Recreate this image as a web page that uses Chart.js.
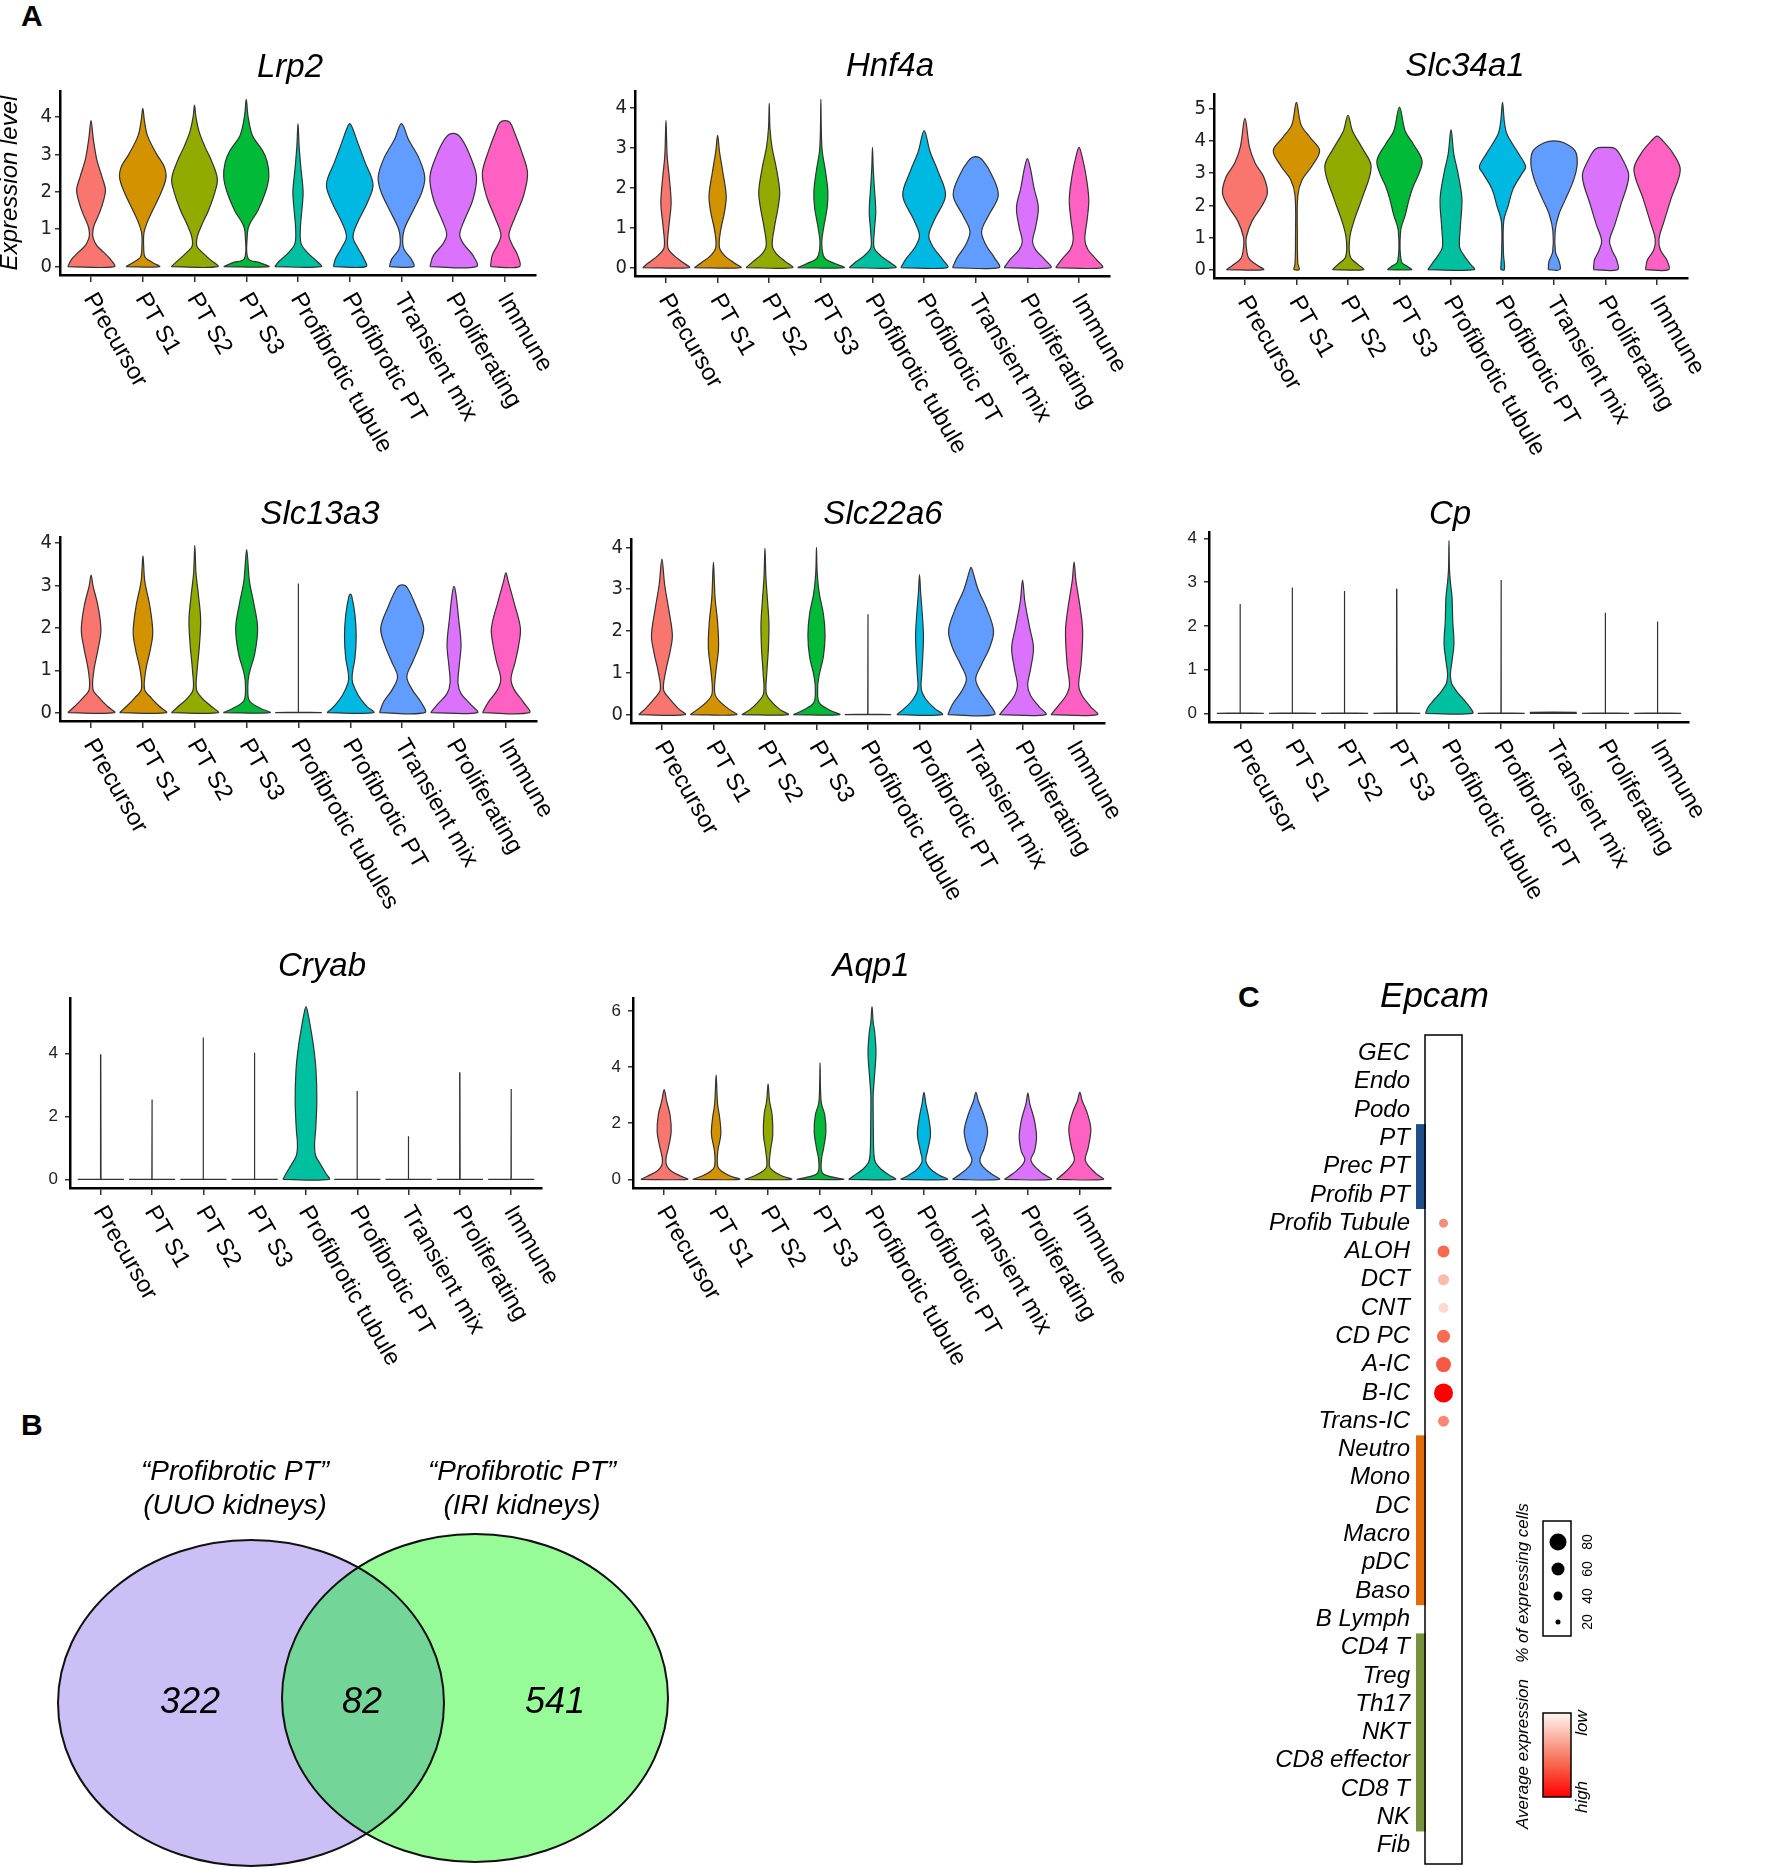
<!DOCTYPE html>
<html>
<head>
<meta charset="utf-8">
<title>Profibrotic PT markers</title>
<script src="https://cdn.jsdelivr.net/npm/chart.js@4.4.1/dist/chart.umd.min.js"></script>
<style>
  body { margin: 0; background: #fff; }
  #page { position: relative; width: 1772px; height: 1868px; overflow: hidden; background: #fff; }
  #page canvas { position: absolute; }
  .letter { position: absolute; font: bold 30px "Liberation Sans", Arial, sans-serif; line-height: 30px; color: #000; }
</style>
</head>
<body>
<div id="page">
  <div class="letter" style="left:21px;top:1px">A</div>
  <div class="letter" style="left:21px;top:1410px">B</div>
  <div class="letter" style="left:1238px;top:982px">C</div>
</div>
<script>
// ---- data ----
const categories = ['Precursor', 'PT S1', 'PT S2', 'PT S3', 'Profibrotic tubule', 'Profibrotic PT', 'Transient mix', 'Proliferating', 'Immune'];
const categoriesSlc13a3 = ['Precursor', 'PT S1', 'PT S2', 'PT S3', 'Profibrotic tubules', 'Profibrotic PT', 'Transient mix', 'Proliferating', 'Immune'];
const violinColors = ['#F8766D', '#D39200', '#93AA00', '#00BA38', '#00C19F', '#00B9E3', '#619CFF', '#DB72FB', '#FF61C3'];

// violin outlines: [expression level, relative half width] from bottom to top
const lrp2 = [
  [[0,1],[0.2,0.83],[0.38,0.55],[0.56,0.25],[0.75,0.1],[0.9,0.07],[1.1,0.13],[1.45,0.37],[1.8,0.55],[2.06,0.62],[2.4,0.47],[2.85,0.25],[3.4,0.1],[3.9,0]],
  [[0,0.72],[0.1,0.45],[0.25,0.1],[0.5,0.04],[0.9,0.05],[1.2,0.2],[1.5,0.42],[2.0,0.8],[2.4,1.0],[2.7,0.9],[3.0,0.6],[3.5,0.2],[3.9,0.07],[4.23,0]],
  [[0,1],[0.2,0.65],[0.4,0.3],[0.55,0.1],[0.8,0.12],[1.1,0.3],[1.5,0.6],[2.0,0.88],[2.35,0.98],[2.8,0.75],[3.2,0.45],[3.6,0.2],[4.0,0.06],[4.32,0]],
  [[0,0.97],[0.1,0.6],[0.22,0.08],[0.8,0.04],[1.1,0.12],[1.5,0.5],[2.0,0.83],[2.4,0.97],[2.8,0.9],[3.1,0.7],[3.5,0.27],[4.0,0.08],[4.47,0]],
  [[0,1],[0.15,0.8],[0.35,0.45],[0.6,0.14],[1.0,0.1],[1.6,0.18],[2.0,0.22],[2.6,0.13],[3.2,0.05],[3.82,0]],
  [[0,0.7],[0.2,0.62],[0.5,0.35],[0.8,0.14],[1.2,0.35],[1.7,0.75],[2.2,1.0],[2.8,0.65],[3.3,0.35],[3.7,0.12],[3.82,0]],
  [[0,0.52],[0.2,0.42],[0.45,0.12],[0.65,0.05],[1.0,0.12],[1.5,0.5],[2.0,0.88],[2.4,1.0],[2.9,0.75],[3.4,0.3],[3.82,0]],
  [[0,1],[0.3,0.85],[0.6,0.45],[0.85,0.28],[1.2,0.45],[1.8,0.85],[2.4,1.0],[3.0,0.7],[3.45,0.32],[3.56,0]],
  [[0,0.62],[0.3,0.55],[0.6,0.3],[0.85,0.17],[1.3,0.42],[1.9,0.8],[2.5,0.97],[3.1,0.7],[3.6,0.4],[3.85,0.22],[3.9,0]]
];
const hnf4a = [
  [[0,1],[0.12,0.75],[0.3,0.35],[0.5,0.08],[1.0,0.12],[1.6,0.22],[2.2,0.15],[2.8,0.05],[3.68,0]],
  [[0,1],[0.12,0.7],[0.3,0.3],[0.5,0.08],[0.9,0.12],[1.4,0.3],[1.8,0.37],[2.4,0.22],[2.9,0.08],[3.3,0]],
  [[0,1],[0.15,0.7],[0.35,0.3],[0.55,0.13],[1.0,0.22],[1.5,0.38],[1.9,0.45],[2.5,0.3],[3.0,0.12],[3.5,0.03],[4.1,0]],
  [[0,1],[0.1,0.6],[0.25,0.15],[0.6,0.04],[1.0,0.12],[1.5,0.27],[1.9,0.3],[2.4,0.2],[2.9,0.06],[3.4,0.02],[4.2,0]],
  [[0,1],[0.15,0.7],[0.3,0.35],[0.5,0.07],[0.9,0.08],[1.4,0.14],[2.0,0.08],[2.5,0.03],[3.0,0]],
  [[0,1],[0.2,0.8],[0.5,0.4],[0.8,0.2],[1.2,0.45],[1.8,0.92],[2.4,0.6],[2.9,0.25],[3.42,0]],
  [[0,1],[0.25,0.8],[0.55,0.45],[0.9,0.25],[1.3,0.55],[1.8,0.97],[2.3,0.7],[2.68,0.3],[2.77,0]],
  [[0,1],[0.2,0.75],[0.45,0.35],[0.65,0.22],[1.0,0.35],[1.5,0.47],[2.0,0.28],[2.5,0.12],[2.72,0]],
  [[0,1],[0.2,0.75],[0.45,0.38],[0.7,0.25],[1.2,0.35],[1.7,0.42],[2.3,0.3],[2.8,0.12],[3.0,0]]
];
const slc34a1 = [
  [[0,0.8],[0.15,0.5],[0.35,0.17],[0.7,0.06],[1.0,0.06],[1.5,0.3],[2.0,0.75],[2.4,0.97],[2.9,0.8],[3.3,0.45],[3.8,0.2],[4.7,0]],
  [[0,0.12],[0.2,0.06],[1.0,0.04],[2.3,0.06],[2.8,0.25],[3.2,0.65],[3.7,1.0],[4.1,0.6],[4.5,0.2],[5.2,0]],
  [[0,0.67],[0.15,0.45],[0.4,0.1],[1.0,0.08],[1.6,0.3],[2.2,0.6],[3.2,1.0],[3.8,0.6],[4.3,0.2],[4.8,0]],
  [[0,0.52],[0.1,0.35],[0.25,0.08],[1.2,0.05],[1.7,0.25],[2.2,0.42],[2.6,0.6],[3.0,0.85],[3.4,0.97],[3.9,0.6],[4.3,0.25],[5.05,0]],
  [[0,1],[0.2,0.8],[0.45,0.55],[0.7,0.37],[1.3,0.4],[2.2,0.47],[3.0,0.3],[3.6,0.12],[4.35,0]],
  [[0,0.08],[0.5,0.04],[1.5,0.05],[2.0,0.25],[2.5,0.45],[3.0,0.85],[3.2,1.0],[3.6,0.7],[4.2,0.2],[4.6,0.08],[5.2,0]],
  [[0,0.25],[0.25,0.22],[0.55,0.06],[1.2,0.05],[1.7,0.2],[2.2,0.5],[2.8,0.85],[3.3,1.0],[3.7,0.9],[3.95,0.4],[4.0,0]],
  [[0,0.52],[0.3,0.48],[0.6,0.28],[0.9,0.17],[1.4,0.4],[2.0,0.65],[2.9,1.0],[3.4,0.75],[3.76,0.42],[3.8,0]],
  [[0,0.5],[0.3,0.42],[0.6,0.15],[0.95,0.08],[1.5,0.3],[2.2,0.6],[3.1,1.0],[3.6,0.7],[4.0,0.25],[4.15,0]]
];
const slc13a3 = [
  [[0,1],[0.15,0.7],[0.35,0.35],[0.55,0.08],[1.0,0.12],[1.5,0.3],[1.95,0.42],[2.5,0.3],[3.0,0.08],[3.25,0]],
  [[0,1],[0.15,0.7],[0.35,0.35],[0.55,0.07],[1.0,0.12],[1.5,0.32],[1.9,0.42],[2.5,0.3],[3.1,0.08],[3.7,0]],
  [[0,1],[0.15,0.7],[0.35,0.3],[0.55,0.07],[1.0,0.1],[1.6,0.2],[2.2,0.25],[2.8,0.15],[3.3,0.05],[3.95,0]],
  [[0,1],[0.1,0.6],[0.28,0.12],[0.6,0.05],[0.9,0.1],[1.4,0.35],[2.0,0.47],[2.6,0.3],[3.1,0.12],[3.85,0]],
  [[0,1],[0.01,0.01],[3.05,0]],
  [[0,1],[0.15,0.7],[0.4,0.35],[0.7,0.1],[0.9,0.08],[1.3,0.2],[1.8,0.25],[2.3,0.2],[2.75,0.06],[2.8,0]],
  [[0,0.97],[0.25,0.8],[0.55,0.42],[0.85,0.2],[1.2,0.45],[1.6,0.75],[2.0,0.92],[2.5,0.6],[2.95,0.22],[3.02,0]],
  [[0,1],[0.2,0.7],[0.45,0.3],[0.7,0.17],[1.1,0.22],[1.6,0.3],[2.2,0.2],[2.8,0.08],[2.98,0]],
  [[0,1],[0.25,0.75],[0.55,0.35],[0.8,0.22],[1.2,0.4],[1.6,0.55],[2.0,0.62],[2.6,0.35],[3.1,0.1],[3.3,0]]
];
const slc22a6 = [
  [[0,1],[0.15,0.7],[0.4,0.3],[0.6,0.07],[1.0,0.15],[1.5,0.35],[1.9,0.45],[2.5,0.3],[3.1,0.12],[3.72,0]],
  [[0,1],[0.12,0.7],[0.3,0.3],[0.5,0.06],[1.0,0.1],[1.6,0.22],[2.2,0.18],[2.8,0.07],[3.65,0]],
  [[0,1],[0.12,0.65],[0.3,0.3],[0.5,0.06],[1.0,0.08],[1.6,0.15],[2.2,0.17],[2.8,0.1],[3.3,0.04],[3.98,0]],
  [[0,1],[0.1,0.6],[0.28,0.12],[0.6,0.05],[0.9,0.1],[1.4,0.3],[1.9,0.37],[2.4,0.3],[2.9,0.12],[3.4,0.03],[4.0,0]],
  [[0,1],[0.01,0.01],[2.4,0]],
  [[0,0.98],[0.15,0.65],[0.35,0.3],[0.6,0.08],[1.0,0.1],[1.5,0.15],[1.9,0.17],[2.4,0.12],[2.9,0.05],[3.35,0]],
  [[0,1],[0.25,0.8],[0.55,0.42],[0.85,0.2],[1.2,0.45],[1.6,0.8],[2.0,0.97],[2.5,0.7],[3.0,0.3],[3.45,0.06],[3.52,0]],
  [[0,1],[0.2,0.7],[0.45,0.35],[0.7,0.22],[1.1,0.35],[1.6,0.47],[2.1,0.3],[2.7,0.1],[3.22,0]],
  [[0,1],[0.2,0.7],[0.45,0.35],[0.7,0.2],[1.2,0.3],[2.0,0.37],[2.6,0.25],[3.2,0.08],[3.65,0]]
];
const cp = [
  [[0,1],[0.01,0.01],[2.5,0]],
  [[0,1],[0.01,0.01],[2.88,0]],
  [[0,1],[0.01,0.01],[2.8,0]],
  [[0,1],[0.01,0.01],[2.85,0]],
  [[0,1],[0.15,0.88],[0.3,0.65],[0.45,0.4],[0.6,0.2],[0.7,0.1],[0.9,0.06],[1.2,0.13],[1.6,0.21],[2.1,0.16],[2.65,0.13],[3.0,0.06],[3.3,0.02],[3.95,0]],
  [[0,1],[0.01,0.01],[3.05,0]],
  [[0,1],[0.025,0.97],[0.03,0]],
  [[0,1],[0.01,0.01],[2.3,0]],
  [[0,1],[0.01,0.01],[2.1,0]]
];
const cryab = [
  [[0,1],[0.01,0.01],[3.97,0]],
  [[0,1],[0.01,0.01],[2.53,0]],
  [[0,1],[0.01,0.01],[4.5,0]],
  [[0,1],[0.01,0.01],[4.02,0]],
  [[0,1],[0.2,0.85],[0.45,0.65],[0.75,0.42],[1.1,0.37],[1.6,0.42],[2.5,0.47],[3.5,0.43],[4.2,0.33],[4.8,0.2],[5.2,0.1],[5.48,0]],
  [[0,1],[0.01,0.01],[2.8,0]],
  [[0,1],[0.01,0.01],[1.37,0]],
  [[0,1],[0.01,0.01],[3.4,0]],
  [[0,1],[0.01,0.01],[2.87,0]]
];
const aqp1 = [
  [[0,1],[0.12,0.7],[0.3,0.3],[0.5,0.1],[0.75,0.08],[1.2,0.2],[1.7,0.3],[2.3,0.25],[2.8,0.1],[3.2,0]],
  [[0,1],[0.12,0.6],[0.28,0.25],[0.45,0.07],[1.0,0.07],[1.6,0.2],[2.2,0.15],[2.7,0.06],[3.72,0]],
  [[0,1],[0.12,0.6],[0.28,0.25],[0.45,0.06],[1.0,0.1],[1.6,0.2],[2.3,0.17],[2.8,0.06],[3.4,0]],
  [[0,1],[0.08,0.55],[0.22,0.1],[0.7,0.06],[1.1,0.15],[1.7,0.25],[2.3,0.2],[2.7,0.06],[3.2,0.02],[4.15,0]],
  [[0,1],[0.15,0.75],[0.35,0.4],[0.6,0.15],[0.9,0.08],[1.6,0.06],[2.4,0.05],[3.0,0.05],[3.6,0.1],[4.5,0.17],[5.2,0.12],[5.6,0.05],[6.15,0]],
  [[0,1],[0.15,0.65],[0.35,0.3],[0.65,0.08],[1.0,0.15],[1.6,0.28],[2.2,0.2],[2.7,0.08],[3.1,0]],
  [[0,1],[0.2,0.65],[0.45,0.3],[0.7,0.17],[1.1,0.35],[1.7,0.5],[2.3,0.33],[2.8,0.1],[3.1,0]],
  [[0,1],[0.2,0.65],[0.45,0.3],[0.7,0.13],[1.0,0.28],[1.5,0.37],[2.1,0.28],[2.7,0.08],[3.07,0]],
  [[0,1],[0.2,0.7],[0.45,0.4],[0.7,0.23],[1.1,0.35],[1.8,0.47],[2.4,0.3],[2.8,0.1],[3.1,0]]
];

const ticks0to4 = [0, 1, 2, 3, 4];
const ticks0to5 = [0, 1, 2, 3, 4, 5];
const cryabTicks = [0, 2, 4];
const aqp1Ticks = [0, 2, 4, 6];

// Venn (B)
const vennTitles = [['\u201CProfibrotic PT\u201D', '(UUO kidneys)'], ['\u201CProfibrotic PT\u201D', '(IRI kidneys)']];
const vennCounts = [322, 82, 541];

// Dot plot (C)
const dotGene = 'Epcam';
const dotCellTypes = ['GEC', 'Endo', 'Podo', 'PT', 'Prec PT', 'Profib PT', 'Profib Tubule', 'ALOH', 'DCT', 'CNT', 'CD PC', 'A-IC', 'B-IC', 'Trans-IC',
  'Neutro', 'Mono', 'DC', 'Macro', 'pDC', 'Baso', 'B Lymph', 'CD4 T', 'Treg', 'Th17', 'NKT', 'CD8 effector', 'CD8 T', 'NK', 'Fib'];
const dotPct  = [null, null, null, null, null, null, 40, 55, 50, 45, 60, 70, 90, 50, null, null, null, null, null, null, null, null, null, null, null, null, null, null, null];
const dotExpr = [null, null, null, null, null, null, 0.45, 0.6, 0.25, 0.12, 0.59, 0.66, 1.0, 0.47, null, null, null, null, null, null, null, null, null, null, null, null, null, null, null];
const lineageFirst = ['PT', 'Neutro', 'CD4 T'];
const lineageLast = ['Profib PT', 'Baso', 'NK'];
const lineageColors = ['#1f4e89', '#e36c0a', '#76923c'];
const sizeLegendPct = [80, 60, 40, 20];

// ---- drawing ----
Chart.defaults.font.family = '"Liberation Sans", Arial, sans-serif';
Chart.defaults.color = '#000';

const SANS = '"Liberation Sans", Arial, sans-serif';
const NARROW = '"Liberation Sans Narrow", "Arial Narrow", "DejaVu Sans Condensed", sans-serif';

function addCanvas(left, top, w, h) {
  const c = document.createElement('canvas');
  c.width = w; c.height = h;
  c.style.left = left + 'px'; c.style.top = top + 'px';
  c.style.width = w + 'px'; c.style.height = h + 'px';
  document.getElementById('page').appendChild(c);
  return c;
}

function outline(profile, i) {
  const half = 0.45;
  const right = profile.map(([y, w]) => ({x: i + half * w, y: y}));
  const left = profile.slice(0, -1).reverse().map(([y, w]) => ({x: i - half * w, y: y}));
  return [{x: i - half * profile[0][1], y: profile[0][0]}, ...right, ...left];
}

function violinText(p, left, top) {
  return {
    id: 'violinText',
    afterDraw(chart) {
      const {ctx, chartArea, scales: {x}} = chart;
      ctx.save();
      ctx.fillStyle = '#000';
      ctx.font = '24px ' + SANS;
      ctx.textAlign = 'left';
      ctx.textBaseline = 'middle';
      p.labels.forEach((lab, i) => {
        ctx.save();
        ctx.translate(x.getPixelForValue(i) - 2, chartArea.bottom + 20);
        ctx.rotate(Math.PI / 3);
        ctx.fillText(lab, 0, 0);
        ctx.restore();
      });
      ctx.font = 'italic 33px ' + SANS;
      ctx.textAlign = 'center';
      ctx.textBaseline = 'alphabetic';
      ctx.fillText(p.gene, p.tx - left, p.ty - top);
      ctx.restore();
    }
  };
}

const panels = [
  {gene: 'Lrp2', profiles: lrp2, ticks: ticks0to4, labels: categories, L: 60, R: 536, T: 91, B: 275, tx: 290, ty: 77, narrow: true, yTitle: 'Expression level'},
  {gene: 'Hnf4a', profiles: hnf4a, ticks: ticks0to4, labels: categories, L: 635, R: 1110, T: 91, B: 276, tx: 890, ty: 76, narrow: true},
  {gene: 'Slc34a1', profiles: slc34a1, ticks: ticks0to5, labels: categories, L: 1214, R: 1688, T: 94, B: 278, tx: 1465, ty: 76, narrow: true},
  {gene: 'Slc13a3', profiles: slc13a3, ticks: ticks0to4, labels: categoriesSlc13a3, L: 60, R: 537, T: 537, B: 721, tx: 320, ty: 524, narrow: true},
  {gene: 'Slc22a6', profiles: slc22a6, ticks: ticks0to4, labels: categories, L: 631, R: 1105, T: 539, B: 723, tx: 883, ty: 524, narrow: true},
  {gene: 'Cp', profiles: cp, ticks: ticks0to4, labels: categories, L: 1209, R: 1689, T: 532, B: 722, tx: 1450, ty: 524, narrow: false},
  {gene: 'Cryab', profiles: cryab, ticks: cryabTicks, labels: categories, L: 70, R: 542, T: 998, B: 1188, tx: 322, ty: 976, narrow: false},
  {gene: 'Aqp1', profiles: aqp1, ticks: aqp1Ticks, labels: categories, L: 633, R: 1111, T: 998, B: 1188, tx: 871, ty: 976, narrow: false}
];

panels.forEach(p => {
  const left = p.L - 60, top = p.T - 85;
  const canvas = addCanvas(left, top, p.R - p.L + 95, p.B - p.T + 300);
  const ymax = Math.max(...p.profiles.map(pr => pr[pr.length - 1][0]));
  const datasets = p.profiles.map((prof, i) => ({
    data: outline(prof, i),
    backgroundColor: violinColors[i],
    borderColor: '#333',
    borderWidth: 1.2,
    fill: 'shape',
    tension: prof.length > 3 ? 0.35 : 0,
    pointRadius: 0
  }));
  new Chart(canvas, {
    type: 'line',
    data: {datasets},
    options: {
      responsive: false,
      animation: false,
      events: [],
      layout: {padding: {left: 0, top: 85, right: 35, bottom: 205}},
      plugins: {legend: {display: false}, tooltip: {enabled: false}},
      scales: {
        x: {
          type: 'linear', min: -0.6, max: 8.6,
          afterBuildTicks: s => { s.ticks = p.labels.map((_, i) => ({value: i})); },
          afterFit: s => { s.height = 10; },
          ticks: {display: false},
          grid: {drawOnChartArea: false, drawTicks: true, tickLength: 7, color: '#333', lineWidth: 1.5},
          border: {display: true, color: '#000', width: 2.5}
        },
        y: {
          type: 'linear', min: -0.05 * ymax, max: 1.05 * ymax,
          afterBuildTicks: s => { s.ticks = p.ticks.map(v => ({value: v})); },
          afterFit: s => { s.width = 60; },
          ticks: {
            color: '#222', padding: p.narrow ? 3 : 7,
            font: p.narrow ? {family: NARROW, size: 20} : {family: SANS, size: 17}
          },
          grid: {drawOnChartArea: false, drawTicks: true, tickLength: 5, color: '#333', lineWidth: 1.5},
          border: {display: true, color: '#000', width: 2.5},
          title: p.yTitle ? {display: true, text: p.yTitle, color: '#000', padding: 0,
            font: {family: SANS, size: 24, style: 'italic', lineHeight: 0.9}} : {display: false}
        }
      }
    },
    plugins: [violinText(p, left, top)]
  });
});

// ---- B: Venn diagram ----
const vennLeft = 0, vennTop = 1380;
const vennEllipses = [
  {cx: 251, cy: 323, rx: 193, ry: 163, color: '#cbbff5'},
  {cx: 475, cy: 318, rx: 193, ry: 164, color: '#97fc97'}
];
const vennOverlapColor = '#74d598';
const vennCountX = [190, 362, 555];
const vennTitleX = [235, 522];

const vennPlugin = {
  id: 'venn',
  beforeDatasetsDraw(chart) {
    const {ctx, scales: {x, y}} = chart;
    const path = e => {
      ctx.beginPath();
      ctx.ellipse(x.getPixelForValue(e.cx), y.getPixelForValue(e.cy),
        Math.abs(x.getPixelForValue(e.cx + e.rx) - x.getPixelForValue(e.cx)),
        Math.abs(y.getPixelForValue(e.cy + e.ry) - y.getPixelForValue(e.cy)), 0, 0, 2 * Math.PI);
    };
    ctx.save();
    vennEllipses.forEach(e => { path(e); ctx.fillStyle = e.color; ctx.fill(); });
    ctx.save();
    path(vennEllipses[0]); ctx.clip();
    path(vennEllipses[1]); ctx.fillStyle = vennOverlapColor; ctx.fill();
    ctx.restore();
    ctx.lineWidth = 2; ctx.strokeStyle = '#111';
    vennEllipses.forEach(e => { path(e); ctx.stroke(); });
    ctx.restore();
  },
  afterDatasetsDraw(chart) {
    const {ctx} = chart;
    const meta = chart.getDatasetMeta(0);
    ctx.save();
    ctx.fillStyle = '#000';
    ctx.textAlign = 'center';
    ctx.textBaseline = 'alphabetic';
    ctx.font = 'italic 36px ' + SANS;
    meta.data.forEach((pt, i) => ctx.fillText(String(vennCounts[i]), pt.x, pt.y));
    ctx.font = 'italic 28px ' + SANS;
    vennTitles.forEach((lines, i) => {
      ctx.fillText(lines[0], vennTitleX[i], 100);
      ctx.fillText(lines[1], vennTitleX[i], 134);
    });
    ctx.restore();
  }
};

new Chart(addCanvas(vennLeft, vennTop, 720, 488), {
  type: 'scatter',
  data: {datasets: [{data: vennCounts.map((c, i) => ({x: vennCountX[i], y: 333})), pointRadius: 0}]},
  options: {
    responsive: false, animation: false, events: [],
    layout: {padding: 0},
    plugins: {legend: {display: false}, tooltip: {enabled: false}},
    scales: {
      x: {display: false, min: 0, max: 720},
      y: {display: false, min: 0, max: 488, reverse: true}
    }
  },
  plugins: [vennPlugin]
});

// ---- C: dot plot ----
const dotLeft = 1040, dotTop = 980;
const exprStops = [[0, [255, 245, 240]], [0.6, [247, 105, 80]], [1, [255, 0, 0]]];
function exprColor(v) {
  for (let k = 1; k < exprStops.length; k++) {
    const [t1, c1] = exprStops[k], [t0, c0] = exprStops[k - 1];
    if (v <= t1) {
      const f = (v - t0) / (t1 - t0);
      return 'rgb(' + c0.map((c, j) => Math.round(c + (c1[j] - c) * f)).join(',') + ')';
    }
  }
  return 'rgb(255,0,0)';
}
const pctRadius = pct => (0.2 * pct + 1) / 2;

const dotPlugin = {
  id: 'dotExtras',
  beforeDatasetsDraw(chart) {
    const {ctx, chartArea, scales: {y}} = chart;
    ctx.save();
    lineageFirst.forEach((name, k) => {
      const a = y.getPixelForValue(dotCellTypes.indexOf(name) - 0.5);
      const b = y.getPixelForValue(dotCellTypes.indexOf(lineageLast[k]) + 0.5);
      ctx.fillStyle = lineageColors[k];
      ctx.fillRect(chartArea.left - 9, a, 10, b - a);
    });
    ctx.strokeStyle = '#000'; ctx.lineWidth = 1.5;
    ctx.strokeRect(chartArea.left, chartArea.top, chartArea.right - chartArea.left, chartArea.bottom - chartArea.top);
    ctx.restore();
  },
  afterDraw(chart) {
    const {ctx, chartArea} = chart;
    ctx.save();
    ctx.fillStyle = '#000';
    ctx.textAlign = 'center';
    ctx.textBaseline = 'alphabetic';
    ctx.font = 'italic 35px ' + SANS;
    ctx.fillText(dotGene, (chartArea.left + chartArea.right) / 2 - 9, 1007 - dotTop);

    // size legend
    const bx = 1543 - dotLeft, by = 1521 - dotTop;
    ctx.strokeStyle = '#000'; ctx.lineWidth = 1.5;
    ctx.strokeRect(bx, by, 28, 115);
    const legendY = [1542, 1569, 1596, 1622];
    sizeLegendPct.forEach((pct, k) => {
      const cy = legendY[k] - dotTop;
      ctx.beginPath();
      ctx.arc(bx + 15, cy, pctRadius(pct), 0, 2 * Math.PI);
      ctx.fillStyle = '#000'; ctx.fill();
      ctx.save();
      ctx.translate(1588 - dotLeft, cy);
      ctx.rotate(-Math.PI / 2);
      ctx.font = '14px ' + SANS;
      ctx.textBaseline = 'middle';
      ctx.fillText(String(pct), 0, 0);
      ctx.restore();
    });
    // colour legend
    const gx = 1543 - dotLeft, gy = 1713 - dotTop, gh = 84;
    const grad = ctx.createLinearGradient(0, gy, 0, gy + gh);
    exprStops.forEach(([t, c]) => grad.addColorStop(t, 'rgb(' + c.join(',') + ')'));
    ctx.fillStyle = grad;
    ctx.fillRect(gx, gy, 28, gh);
    ctx.strokeRect(gx, gy, 28, gh);

    const rotText = (txt, x, yc, font) => {
      ctx.save();
      ctx.translate(x, yc);
      ctx.rotate(-Math.PI / 2);
      ctx.font = font;
      ctx.fillStyle = '#000';
      ctx.textAlign = 'center';
      ctx.textBaseline = 'middle';
      ctx.fillText(txt, 0, 0);
      ctx.restore();
    };
    rotText('% of expressing cells', 1523 - dotLeft, 1583 - dotTop, 'italic 17px ' + SANS);
    rotText('Average expression', 1523 - dotLeft, 1754 - dotTop, 'italic 17px ' + SANS);
    rotText('low', 1582 - dotLeft, 1723 - dotTop, 'italic 17px ' + SANS);
    rotText('high', 1582 - dotLeft, 1797 - dotTop, 'italic 17px ' + SANS);
    ctx.restore();
  }
};

const dotData = [];
dotCellTypes.forEach((name, i) => {
  if (dotPct[i] != null) dotData.push({x: 0.5, y: i, r: pctRadius(dotPct[i]), expr: dotExpr[i]});
});

// the y axis reserves half a label plus its padding (about 30px) below the plot area
new Chart(addCanvas(dotLeft, dotTop, 732, 914), {
  type: 'bubble',
  data: {datasets: [{data: dotData, borderWidth: 0, backgroundColor: c => exprColor(c.raw ? c.raw.expr : 0)}]},
  options: {
    responsive: false, animation: false, events: [],
    layout: {padding: {left: 5, top: 55, right: 310, bottom: 30}},
    plugins: {legend: {display: false}, tooltip: {enabled: false}},
    scales: {
      x: {display: false, min: 0, max: 1},
      y: {
        type: 'linear', min: -0.65, max: 28.65, reverse: true,
        afterBuildTicks: s => { s.ticks = dotCellTypes.map((_, i) => ({value: i})); },
        afterFit: s => { s.width = 380; },
        ticks: {autoSkip: false, padding: 15, color: '#000', font: {family: SANS, size: 24, style: 'italic'},
          callback: v => dotCellTypes[v]},
        grid: {display: false, drawTicks: false, tickLength: 0},
        border: {display: false}
      }
    }
  },
  plugins: [dotPlugin]
});
</script>
</body>
</html>
